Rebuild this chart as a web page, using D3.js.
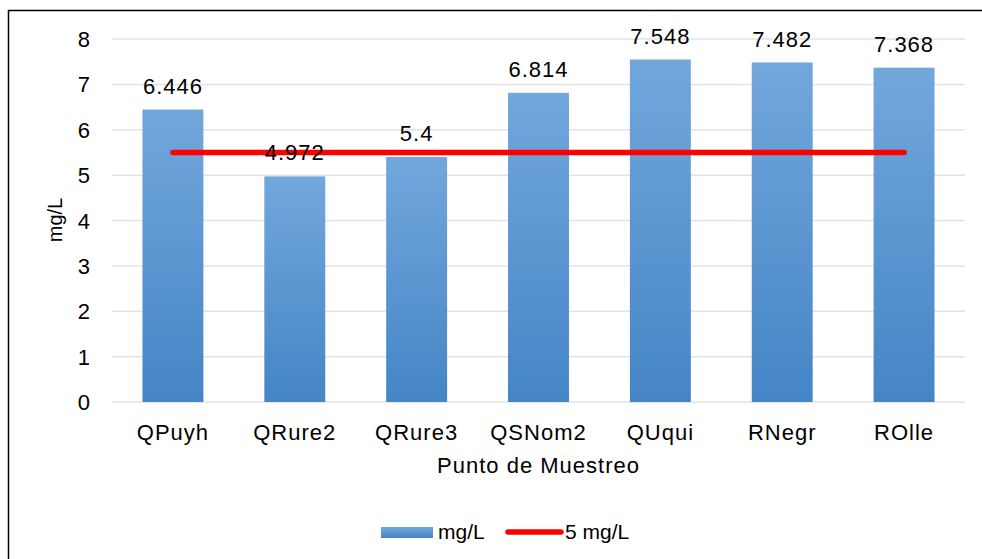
<!DOCTYPE html>
<html><head><meta charset="utf-8">
<script src="https://cdn.jsdelivr.net/npm/d3@7"></script>
<style>body{margin:0;background:#fff}svg{display:block;font-family:"Liberation Sans",Arial,sans-serif}</style>
</head><body><svg id="c" width="982" height="559"></svg>
<script>
const categories = ["QPuyh","QRure2","QRure3","QSNom2","QUqui","RNegr","ROlle"];
const values = [6.446,4.972,5.4,6.814,7.548,7.482,7.368];
const refValue = 5.5;
const yTicks = [0,1,2,3,4,5,6,7,8];
const seriesNames = ["mg/L","5 mg/L"];

const svg = d3.select("#c");
const m = {l:112, r:965, t:39, b:402};
svg.append("rect").attr("x",8.5).attr("y",10.5).attr("width",990).attr("height",560)
  .attr("fill","none").attr("stroke","#000").attr("stroke-width",1.5);

const x = d3.scaleBand().domain(categories).range([m.l,m.r]).paddingInner(0.5).paddingOuter(0.25);
const y = d3.scaleLinear().domain([0,8]).range([m.b,m.t]);

const defs = svg.append("defs");
const g = defs.append("linearGradient").attr("id","bg").attr("x1",0).attr("y1",0).attr("x2",0).attr("y2",1);
g.append("stop").attr("offset","0%").attr("stop-color","#72a7dc");
g.append("stop").attr("offset","100%").attr("stop-color","#4585c6");
const lg = defs.append("linearGradient").attr("id","lgb").attr("x1",0).attr("y1",0).attr("x2",0).attr("y2",1);
lg.append("stop").attr("offset","0%").attr("stop-color","#72a7dc");
lg.append("stop").attr("offset","100%").attr("stop-color","#4585c6");

// gridlines
svg.append("g").selectAll("line").data(yTicks).join("line")
  .attr("x1",m.l).attr("x2",m.r).attr("y1",d=>y(d)).attr("y2",d=>y(d))
  .attr("stroke","#dfe3e8").attr("stroke-width",1.5);

// y tick labels
svg.append("g").selectAll("text").data(yTicks).join("text")
  .attr("x",90).attr("y",d=>y(d)+8).attr("text-anchor","end")
  .attr("font-size",22).text(d=>d);

// bars
svg.append("g").selectAll("rect").data(values).join("rect")
  .attr("x",(d,i)=>x(categories[i])).attr("width",x.bandwidth())
  .attr("y",d=>y(d)).attr("height",d=>y(0)-y(d)).attr("fill","url(#bg)");

// x labels
svg.append("g").selectAll("text").data(categories).join("text")
  .attr("x",d=>x(d)+x.bandwidth()/2).attr("y",440).attr("text-anchor","middle")
  .attr("font-size",22).attr("letter-spacing",1).text(d=>d);

// ref line
const lineGen = d3.line().x(d=>x(d)+x.bandwidth()/2).y(()=>y(refValue));
svg.append("path").attr("d",lineGen([categories[0],categories[categories.length-1]]))
  .attr("stroke","#ff0000").attr("stroke-width",5.5).attr("stroke-linecap","round").attr("fill","none");

// data labels
svg.append("g").selectAll("text").data(values).join("text")
  .attr("x",(d,i)=>x(categories[i])+x.bandwidth()/2).attr("y",d=>y(d)-16)
  .attr("text-anchor","middle").attr("font-size",22).attr("letter-spacing",1).text(d=>d);

// axis titles
svg.append("text").attr("x",538.5).attr("y",473).attr("text-anchor","middle").attr("font-size",22).attr("letter-spacing",1).text("Punto de Muestreo");
svg.append("text").attr("transform","translate(62,220) rotate(-90)").attr("text-anchor","middle").attr("font-size",20).text("mg/L");

// legend
svg.append("rect").attr("x",381).attr("y",527).attr("width",52).attr("height",11).attr("fill","url(#lgb)");
svg.append("text").attr("x",438).attr("y",539).attr("font-size",21).text(seriesNames[0]);
svg.append("line").attr("x1",508).attr("x2",561).attr("y1",532).attr("y2",532)
  .attr("stroke","#ff0000").attr("stroke-width",5.5).attr("stroke-linecap","round");
svg.append("text").attr("x",565).attr("y",539).attr("font-size",21).text(seriesNames[1]);
</script></body></html>
